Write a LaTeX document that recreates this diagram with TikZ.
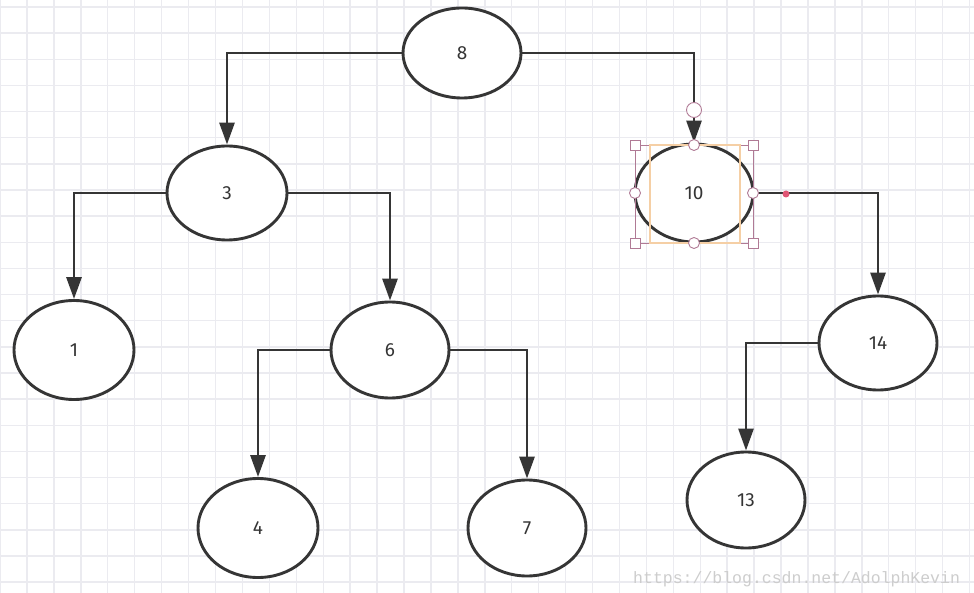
\documentclass[tikz,border=0pt]{standalone}
\usepackage{fontspec}
\setmainfont{Fira Sans}
\newfontfamily\wmfont{Liberation Mono}
\usetikzlibrary{shapes.geometric,arrows.meta}
\definecolor{gridc}{HTML}{EBEBF0}
\definecolor{inkc}{HTML}{353535}
\definecolor{selp}{HTML}{B07A95}
\definecolor{selo}{HTML}{F5CFA5}
\definecolor{dotc}{HTML}{E05575}
\definecolor{wmc}{HTML}{CDCDCD}
\tikzset{
  bnode/.style={ellipse, draw=inkc, line width=2.9pt, fill=white, text=inkc,
    font=\fontsize{19}{19}\selectfont, inner sep=0pt},
  arr/.style={draw=inkc, line width=2.9pt, -{Triangle[width=15pt,length=22pt]}},
  handlesq/.style={draw=selp, fill=white, line width=0.9pt, minimum size=10pt, inner sep=0pt, rectangle},
  handlec/.style={draw=selp, fill=white, line width=0.9pt, minimum size=11pt, inner sep=0pt, circle},
}
\begin{document}
\begin{tikzpicture}[x=1pt,y=-1pt]
\useasboundingbox (0,0) rectangle (974,593);
\fill[white] (0,0) rectangle (974,593);
% grid
\foreach \k in {0,...,35} {
  \draw[gridc, line width=1.4pt] ({27+26.93*\k},0) -- ({27+26.93*\k},593);
}
\draw[gridc, line width=1.4pt] (0.3,0) -- (0.3,593);
\foreach \k in {0,...,22} {
  \draw[gridc, line width=1.4pt] (0,{7+26.14*\k}) -- (974,{7+26.14*\k});
}
% watermark
\node[anchor=base west, inner sep=0pt, text=wmc, font=\wmfont\fontsize{16.5}{16.5}\selectfont] (wm) at (633,583) {https://blog.csdn.net/AdolphKevin};
% nodes
\node[bnode, minimum width=118pt, minimum height=90pt] (n8) at (462,53) {8};
\node[bnode, minimum width=120pt, minimum height=94pt] (n3) at (227,193) {3};
\node[bnode, minimum width=118pt, minimum height=98pt] (n10) at (694,193) {10};
\node[bnode, minimum width=120pt, minimum height=99pt] (n1) at (74,350) {1};
\node[bnode, minimum width=118pt, minimum height=96pt] (n6) at (390,350) {6};
\node[bnode, minimum width=118pt, minimum height=94pt] (n14) at (878,343) {14};
\node[bnode, minimum width=120pt, minimum height=99pt] (n4) at (258,528) {4};
\node[bnode, minimum width=118pt, minimum height=96pt] (n7) at (527,528) {7};
\node[bnode, minimum width=118pt, minimum height=96pt] (n13) at (746,500) {13};
% connectors
\draw[arr] (n8.west) -| (n3.north);
\draw[arr] (n8.east) -| (n10.north);
\draw[arr] (n3.west) -| (n1.north);
\draw[arr] (n3.east) -| (n6.north);
\draw[arr] (n6.west) -| (n4.north);
\draw[arr] (n6.east) -| (n7.north);
\draw[arr] (n10.east) -| (n14.north);
\draw[arr] (n14.west) -| (n13.north);
% selection overlay on node 10
\draw[selp, line width=0.8pt] (635,145) rectangle (753,243);
\draw[selo, line width=1.6pt] (650,145) rectangle (740,243);
\node[handlesq] (s1) at (635,145) {};
\node[handlesq] (s2) at (753,145) {};
\node[handlesq] (s3) at (635,243) {};
\node[handlesq] (s4) at (753,243) {};
\node[handlec] (c1) at (694,145) {};
\node[handlec] (c2) at (635,193) {};
\node[handlec] (c3) at (753,193) {};
\node[handlec] (c4) at (694,243) {};
\node[handlec, minimum size=15pt] (c5) at (694,110) {};
\fill[dotc] (786,194) circle (3.5pt);
\end{tikzpicture}
\end{document}
